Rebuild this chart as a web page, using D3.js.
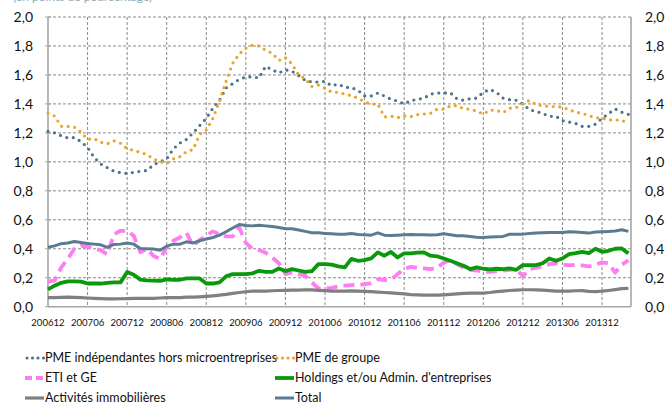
<!DOCTYPE html>
<html><head><meta charset="utf-8">
<script src="https://cdn.jsdelivr.net/npm/d3@7"></script>
<style>
html,body{margin:0;padding:0;background:#fff;}
svg{display:block;font-family:Lato,"Open Sans",sans-serif;}
</style></head>
<body>
<script>
// Monthly categories 200612 .. 201404
const startYear = 2006, startMonth = 12, nMonths = 89;
const months = [];
for (let k = 0; k < nMonths; k++) {
  const m = (startMonth - 1 + k) % 12 + 1, yr = startYear + Math.floor((startMonth - 1 + k) / 12);
  months.push(String(yr) + String(m).padStart(2, "0"));
}
const xTickLabels = ["200612","200706","200712","200806","200812","200906","200912","201006","201012","201106","201112","201206","201212","201306","201312"];
const yTicks = [0,0.2,0.4,0.6,0.8,1.0,1.2,1.4,1.6,1.8,2.0];

const pmeIndep = [1.21,1.20,1.18,1.165,1.167,1.14,1.10,1.03,0.985,0.96,0.935,0.925,0.92,0.928,0.935,0.94,0.98,1.00,1.02,1.09,1.13,1.155,1.20,1.25,1.30,1.37,1.425,1.51,1.54,1.57,1.586,1.586,1.58,1.66,1.635,1.614,1.635,1.625,1.595,1.563,1.552,1.551,1.556,1.525,1.537,1.515,1.512,1.494,1.455,1.455,1.475,1.455,1.432,1.42,1.40,1.422,1.432,1.439,1.468,1.475,1.475,1.477,1.435,1.425,1.436,1.44,1.48,1.50,1.48,1.44,1.429,1.425,1.40,1.36,1.348,1.335,1.314,1.315,1.285,1.275,1.265,1.245,1.245,1.26,1.30,1.333,1.365,1.342,1.328];
const pmeGroupe = [1.335,1.317,1.245,1.245,1.24,1.205,1.155,1.16,1.135,1.125,1.145,1.128,1.09,1.08,1.066,1.05,1.02,1.00,0.99,1.02,1.036,1.07,1.085,1.19,1.22,1.30,1.42,1.556,1.68,1.745,1.785,1.805,1.80,1.77,1.75,1.70,1.72,1.675,1.60,1.575,1.52,1.53,1.508,1.482,1.48,1.468,1.457,1.44,1.415,1.397,1.40,1.31,1.315,1.305,1.318,1.312,1.326,1.33,1.335,1.363,1.363,1.386,1.388,1.367,1.363,1.35,1.33,1.358,1.355,1.34,1.37,1.375,1.40,1.425,1.395,1.388,1.382,1.381,1.378,1.36,1.343,1.335,1.32,1.305,1.302,1.29,1.289,1.289,1.26];
const etiGe = [0.175,0.18,0.27,0.33,0.40,0.42,0.416,0.40,0.39,0.36,0.50,0.524,0.524,0.49,0.375,0.40,0.35,0.33,0.41,0.455,0.478,0.51,0.42,0.46,0.49,0.52,0.50,0.485,0.485,0.547,0.44,0.40,0.392,0.373,0.34,0.30,0.225,0.237,0.225,0.214,0.168,0.126,0.126,0.13,0.14,0.145,0.149,0.152,0.155,0.163,0.19,0.184,0.186,0.225,0.26,0.275,0.27,0.265,0.26,0.268,0.305,0.32,0.295,0.27,0.255,0.25,0.24,0.24,0.245,0.25,0.255,0.26,0.21,0.26,0.27,0.278,0.294,0.30,0.29,0.287,0.287,0.285,0.278,0.29,0.306,0.30,0.235,0.29,0.32];
const holdings = [0.12,0.145,0.165,0.175,0.175,0.173,0.16,0.16,0.16,0.165,0.168,0.168,0.24,0.22,0.187,0.182,0.18,0.179,0.189,0.185,0.186,0.195,0.195,0.195,0.16,0.16,0.168,0.21,0.225,0.225,0.225,0.23,0.248,0.24,0.24,0.264,0.246,0.26,0.25,0.241,0.245,0.294,0.294,0.29,0.278,0.271,0.33,0.317,0.322,0.333,0.375,0.352,0.378,0.34,0.368,0.368,0.374,0.375,0.352,0.348,0.333,0.317,0.30,0.283,0.26,0.271,0.262,0.257,0.262,0.26,0.264,0.255,0.287,0.287,0.287,0.30,0.333,0.317,0.333,0.363,0.37,0.379,0.37,0.40,0.379,0.386,0.40,0.402,0.368];
const immobilier = [0.062,0.063,0.065,0.066,0.065,0.062,0.06,0.058,0.056,0.054,0.054,0.055,0.056,0.057,0.057,0.058,0.058,0.06,0.062,0.062,0.063,0.066,0.066,0.068,0.071,0.075,0.08,0.085,0.092,0.098,0.103,0.108,0.108,0.108,0.11,0.112,0.113,0.114,0.115,0.117,0.116,0.113,0.111,0.108,0.108,0.108,0.109,0.108,0.106,0.104,0.101,0.098,0.095,0.092,0.088,0.083,0.081,0.08,0.08,0.08,0.082,0.085,0.088,0.092,0.094,0.094,0.094,0.098,0.104,0.108,0.112,0.115,0.117,0.117,0.116,0.114,0.111,0.108,0.108,0.107,0.11,0.111,0.106,0.104,0.107,0.112,0.118,0.125,0.127];
const total = [0.41,0.42,0.435,0.44,0.45,0.443,0.437,0.432,0.427,0.41,0.43,0.432,0.44,0.432,0.402,0.40,0.398,0.39,0.418,0.432,0.432,0.448,0.44,0.455,0.467,0.478,0.494,0.517,0.543,0.567,0.561,0.558,0.562,0.558,0.554,0.547,0.538,0.538,0.529,0.52,0.51,0.51,0.506,0.503,0.501,0.50,0.505,0.499,0.497,0.494,0.51,0.494,0.492,0.494,0.497,0.499,0.497,0.496,0.495,0.497,0.503,0.497,0.49,0.49,0.485,0.48,0.478,0.482,0.483,0.485,0.50,0.501,0.501,0.505,0.508,0.51,0.513,0.513,0.513,0.517,0.515,0.513,0.508,0.515,0.518,0.52,0.522,0.531,0.52];

const seriesNames = ["PME indépendantes hors microentreprises","PME de groupe","ETI et GE","Holdings et/ou Admin. d'entreprises","Activités immobilières","Total"];
const seriesValues = [pmeIndep, pmeGroupe, etiGe, holdings, immobilier, total];

(function () {
const styles = [
  {color:"#4d7488", width:3.2, dash:"0,6.6", cap:"round"},
  {color:"#e8a62a", width:3.2, dash:"0,6.6", cap:"round"},
  {color:"#ff7df2", width:3.8, dash:"11,6", cap:"butt"},
  {color:"#0a990a", width:3.8, dash:null, cap:"butt"},
  {color:"#808080", width:3.2, dash:null, cap:"butt"},
  {color:"#5b7c90", width:3.0, dash:null, cap:"butt"}
];

const W = 670, H = 406;
const pLeft = 48, pRight = 631, pTop = 17, pBottom = 306.7;
const svg = d3.select("body").append("svg").attr("width", W).attr("height", H);

const x = d3.scaleLinear().domain([0, nMonths - 1]).range([pLeft, 628.4]);
const y = d3.scaleLinear().domain([0, 2]).range([pBottom, pTop]);

// title, clipped at the top edge as in the reference
svg.append("text").attr("x", 13).attr("y", 0.5).attr("font-size", 12).attr("fill", "#8daabd")
  .text("(en points de pourcentage)");

svg.append("g").selectAll("line").data(yTicks.filter(v => v > 0)).join("line")
  .attr("x1", pLeft).attr("x2", pRight).attr("y1", d => y(d)).attr("y2", d => y(d))
  .attr("stroke", "#8a8a8a").attr("stroke-width", 1).attr("stroke-dasharray", "3,2");

const tickIdx = xTickLabels.map(l => months.indexOf(l));
svg.append("g").selectAll("line").data(tickIdx.filter(i => i > 0)).join("line")
  .attr("x1", d => x(d)).attr("x2", d => x(d)).attr("y1", pTop).attr("y2", pBottom)
  .attr("stroke", "#8a8a8a").attr("stroke-width", 1).attr("stroke-dasharray", "3,2");

const axisColor = "#a6a6a6";
svg.append("line").attr("x1", pLeft).attr("x2", pLeft).attr("y1", pTop).attr("y2", pBottom).attr("stroke", axisColor).attr("stroke-width", 1.6);
svg.append("line").attr("x1", pRight).attr("x2", pRight).attr("y1", pTop).attr("y2", pBottom).attr("stroke", axisColor).attr("stroke-width", 1.6);
svg.append("line").attr("x1", pLeft).attr("x2", pRight).attr("y1", pBottom).attr("y2", pBottom).attr("stroke", axisColor).attr("stroke-width", 1.6);

const fmt = v => v.toFixed(1).replace(".", ",");
svg.append("g").selectAll("text").data(yTicks).join("text")
  .attr("x", 33).attr("y", d => y(d)).attr("dy", "0.35em").attr("text-anchor", "end")
  .attr("font-size", 14).attr("fill", "#111").text(fmt);
svg.append("g").selectAll("text").data(yTicks).join("text")
  .attr("x", 645).attr("y", d => y(d)).attr("dy", "0.35em").attr("text-anchor", "start")
  .attr("font-size", 14).attr("fill", "#111").text(fmt);
svg.append("g").selectAll("line").data(yTicks).join("line")
  .attr("x1", pLeft - 3).attr("x2", pLeft + 3).attr("y1", d => y(d)).attr("y2", d => y(d)).attr("stroke", axisColor);

svg.append("g").selectAll("text").data(xTickLabels).join("text")
  .attr("x", d => x(months.indexOf(d))).attr("y", 326).attr("text-anchor", "middle")
  .attr("font-size", 9.6).attr("fill", "#111").text(d => d);

const line = d3.line().x((d, i) => x(i)).y(d => y(d));
seriesValues.forEach((vals, k) => {
  const s = styles[k];
  svg.append("path").datum(vals).attr("d", line).attr("fill", "none")
    .attr("stroke", s.color).attr("stroke-width", s.width)
    .attr("stroke-linecap", s.cap).attr("stroke-linejoin", "round")
    .attr("stroke-dasharray", s.dash);
});

const legPos = [[25,358],[275,358],[25,378],[275,378],[25,398],[275,398]];
seriesNames.forEach((name, k) => {
  const s = styles[k];
  const [lx, ly] = legPos[k];
  const g = svg.append("g");
  g.append("line").attr("x1", lx + (s.cap === "round" ? 2 : 0)).attr("x2", lx + 19).attr("y1", ly).attr("y2", ly)
    .attr("stroke", s.color).attr("stroke-width", s.width)
    .attr("stroke-linecap", s.cap)
    .attr("stroke-dasharray", s.dash ? (s.cap === "round" ? "0,5.5" : "7,4") : null);
  g.append("text").attr("x", lx + 20).attr("y", ly).attr("dy", "0.35em")
    .attr("font-size", 12.5).attr("fill", "#111").text(name);
});
})();
</script>
</body></html>
